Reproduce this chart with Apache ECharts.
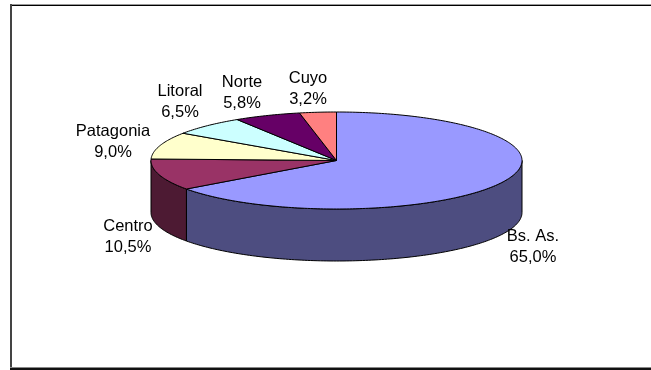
<!DOCTYPE html>
<html><head><meta charset="utf-8">
<style>html,body{margin:0;padding:0;background:#fff}#c{width:651px;height:370px}</style>
<script src="https://cdn.jsdelivr.net/npm/echarts@6/dist/echarts.min.js"></script>
</head><body><div id="c"></div>
<script>
const categories = ['Bs. As.', 'Centro', 'Patagonia', 'Litoral', 'Norte', 'Cuyo'];
const values = [65.0, 10.5, 9.0, 6.5, 5.8, 3.2];
const topColors = ['#9999FF', '#993366', '#FFFFCC', '#CCFFFF', '#660066', '#FF8080'];
const sideColors = ['#4D4D80', '#4D1A33', '#80806A', '#6A8080', '#330033', '#804040'];
const labelCentres = [[533, 247], [128, 237], [113, 142], [180, 102], [242, 93], [308, 89]];

const CX = 336.5, CY = 160.5, RX = 185.5, RY = 48.5, DEPTH = 52;
const total = values.reduce((a, b) => a + b, 0);
const fmt = v => v.toFixed(1).replace('.', ',') + '%';
const pt = (deg, dy) => {
  const r = deg * Math.PI / 180;
  return [CX + RX * Math.sin(r), CY - RY * Math.cos(r) + (dy || 0)];
};
const arc = (a, b, dy) => {
  const out = [], n = Math.max(2, Math.ceil(Math.abs(b - a)));
  for (let i = 0; i <= n; i++) out.push(pt(a + (b - a) * i / n, dy));
  return out;
};
const spans = [];
let acc = 0;
values.forEach(v => { const s = acc / total * 360; acc += v; spans.push([s, acc / total * 360]); });

const line = { stroke: '#000', lineWidth: 1, lineJoin: 'round' };

function renderWall(params, api) {
  const i = api.value(0), [s, e] = spans[i];
  const a = Math.max(s, 90), b = Math.min(e, 270);
  if (b <= a) return { type: 'group', children: [] };
  return { type: 'polygon', shape: { points: arc(a, b, 0).concat(arc(b, a, DEPTH)) },
    style: Object.assign({ fill: sideColors[i] }, line) };
}
function renderTop(params, api) {
  const i = api.value(0), [s, e] = spans[i];
  return { type: 'polygon', shape: { points: [[CX, CY]].concat(arc(s, e, 0)) },
    style: Object.assign({ fill: topColors[i] }, line) };
}
function renderLabel(params, api) {
  const i = api.value(0), c = labelCentres[i];
  return { type: 'text', x: c[0], y: c[1], style: {
    text: categories[i] + '\n' + fmt(values[i]), fill: '#000', align: 'center', verticalAlign: 'middle',
    font: '16.5px "Liberation Sans", Arial, sans-serif', lineHeight: 20.5 } };
}
const bar = (x, y, width, height, fill) => ({ type: 'rect', z: 1, shape: { x, y, width, height }, style: { fill } });
const rows = categories.map((_, i) => [i]);
const chart = echarts.init(document.getElementById('c'), null, { renderer: 'canvas' });
chart.setOption({
  animation: false,
  backgroundColor: '#fff',
  graphic: [
    bar(10, 4, 641, 1, '#999'), bar(10, 5, 641, 1, '#000'),
    bar(10, 4, 2, 366, '#444'),
    bar(10, 367, 641, 1, '#888'), bar(10, 368, 641, 2, '#111')
  ],
  series: [
    { type: 'custom', coordinateSystem: 'none', z: 2, data: rows, renderItem: renderWall, silent: true },
    { type: 'custom', coordinateSystem: 'none', z: 3, data: rows, renderItem: renderTop, silent: true },
    { type: 'custom', coordinateSystem: 'none', z: 4, data: rows, renderItem: renderLabel, silent: true }
  ]
});
</script></body></html>
